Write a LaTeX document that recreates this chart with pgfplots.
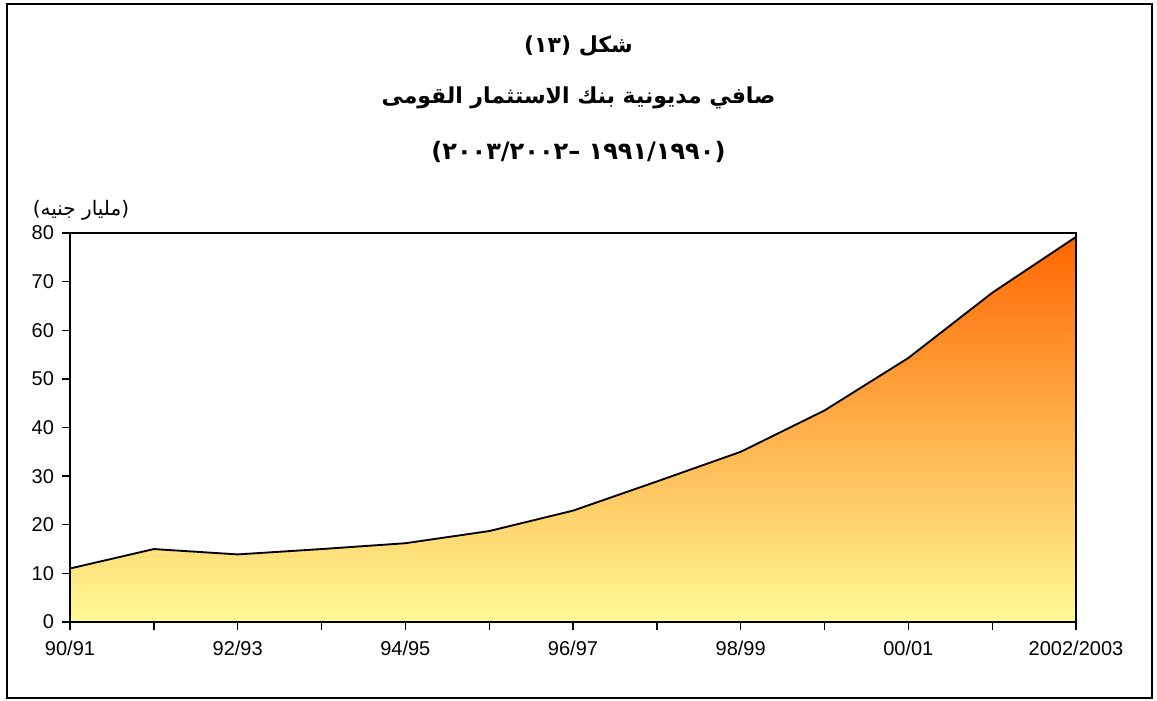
\documentclass[border=0pt]{standalone}
\usepackage{fontspec}
\setmainfont{Liberation Sans}
\newfontfamily\arabicfont[Script=Arabic]{DejaVu Sans}
\newfontfamily\digitfont{DejaVu Sans}
\TeXXeTstate=1
\usepackage{pgfplots}
\pgfplotsset{compat=1.18}
\definecolor{fbot}{RGB}{255,251,150}
\definecolor{fmid}{RGB}{253,194,108}
\definecolor{ftop}{RGB}{255,102,0}
\begin{document}
\begin{tikzpicture}
\path[use as bounding box] (0,0) rectangle (867.75pt,525pt);
\draw[black, line width=1.1pt] (5.25pt,1.5pt) rectangle (864pt,522pt);
\node[font=\arabicfont\bfseries\fontsize{16.5}{19}\selectfont] at (433.9pt,490.5pt) {\beginR شكل \beginL(١٣)\endL\endR};
\node[font=\arabicfont\bfseries\fontsize{16.5}{19}\selectfont] at (433.9pt,451.5pt) {\beginR صافي مديونية بنك الاستثمار القومى\endR};
\node[font=\digitfont\bfseries\fontsize{18}{20}\selectfont] at (433.9pt,411pt) {\beginR\beginL(٢٠٠٣/٢٠٠٢– ١٩٩١/١٩٩٠)\endL\endR};
\node[font=\arabicfont\fontsize{15}{17}\selectfont] at (60.75pt,367pt) {\beginR(مليار جنيه)\endR};
\begin{axis}[at={(52.5pt,58.5pt)}, anchor=south west, scale only axis,
  width=754.5pt, height=291.75pt,
  xmin=0, xmax=12, ymin=0, ymax=80,
  xtick={0,...,12},
  xticklabels={90/91,,92/93,,94/95,,96/97,,98/99,,00/01,,2002/2003},
  ytick={0,10,...,80},
  tick align=outside, xtick pos=bottom, ytick pos=left,
  major tick length=6pt,
  tick style={black, line width=1pt},
  axis line style={black, line width=1.4pt},
  axis on top,
  ticklabel style={font=\fontsize{15}{17}\selectfont},
  xticklabel style={yshift=-5pt},
  yticklabel style={xshift=-2.5pt},
  /pgf/number format/assume math mode=true,
]
\addplot[draw=none, bottom color=fbot, middle color=fmid, top color=ftop] coordinates {
(0,11.0) (1,15.0) (2,13.9) (3,15.0) (4,16.2) (5,18.7) (6,22.9) (7,28.9) (8,35.0) (9,43.5) (10,54.3) (11,67.7) (12,79.2)
} \closedcycle;
\addplot[black, line width=1.4pt, mark=none] coordinates {
(0,11.0) (1,15.0) (2,13.9) (3,15.0) (4,16.2) (5,18.7) (6,22.9) (7,28.9) (8,35.0) (9,43.5) (10,54.3) (11,67.7) (12,79.2)
};
\end{axis}
\end{tikzpicture}
\end{document}
